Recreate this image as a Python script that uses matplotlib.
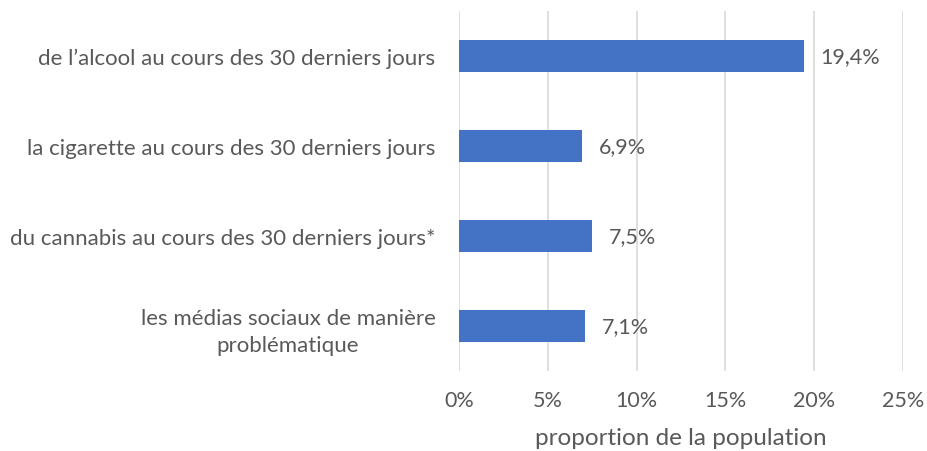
import matplotlib.pyplot as plt
import numpy as np

categories = ["de l\u2019alcool au cours des 30 derniers jours",
              "la cigarette au cours des 30 derniers jours",
              "du cannabis au cours des 30 derniers jours*",
              "les médias sociaux de manière\nproblématique"]
values = [19.4, 6.9, 7.5, 7.1]
value_labels = ["19,4%", "6,9%", "7,5%", "7,1%"]
xticks = [0, 5, 10, 15, 20, 25]
xtick_labels = ["0%", "5%", "10%", "15%", "20%", "25%"]

plt.rcParams['font.family'] = ['Lato', 'DejaVu Sans']
txt = '#595959'

fig = plt.figure(figsize=(9.27, 4.52), dpi=100)
ax = fig.add_axes([459/927, 1-372/452, (903-459)/927, 360/452])

y = np.arange(len(categories))
ax.barh(y, values, height=0.36, color='#4472C4', zorder=3)
ax.set_ylim(len(categories)-0.5, -0.5)
ax.set_xlim(0, 25)
ax.set_xticks(xticks)
ax.set_xticklabels(xtick_labels, fontsize=15.5, color=txt)
ax.set_yticks(y)
ax.set_yticklabels(categories, fontsize=16, color=txt, linespacing=1.45)
for lab in ax.get_yticklabels():
    lab.set_ha('right')
    lab.set_multialignment('center')
ax.tick_params(axis='y', length=0, pad=17)
ax.tick_params(axis='x', length=0, pad=14)
ax.grid(axis='x', color='#d9d9d9', linewidth=1.2, zorder=0)
for s in ax.spines.values():
    s.set_visible(False)
for yi, v, lbl in zip(y, values, value_labels):
    ax.text(v + 0.95, yi, lbl, va='center', ha='left', fontsize=15.5, color=txt)
ax.set_xlabel("proportion de la population", fontsize=17.5, color=txt, labelpad=12)

fig.savefig('out.png', dpi=100)
